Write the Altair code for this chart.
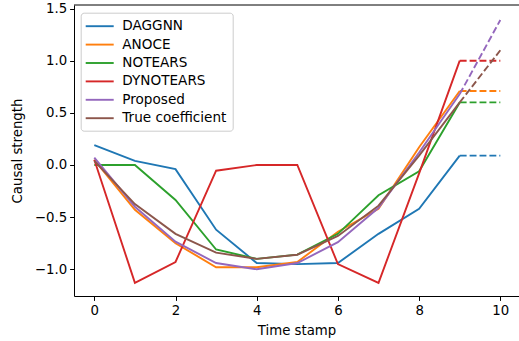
import altair as alt
import pandas as pd

t = [0, 1, 2, 3, 4, 5, 6, 7, 8, 9]
methods = ["DAGGNN", "ANOCE", "NOTEARS", "DYNOTEARS", "Proposed", "True coefficient"]
colors = ["#1f77b4", "#ff7f0e", "#2ca02c", "#d62728", "#9467bd", "#8c564b"]

daggnn = [0.19, 0.04, -0.04, -0.62, -0.94, -0.95, -0.94, -0.66, -0.42, 0.09]
anoce = [0.05, -0.43, -0.75, -0.98, -0.98, -0.93, -0.64, -0.42, 0.17, 0.71]
notears = [0.0, 0.0, -0.335, -0.81, -0.90, -0.86, -0.66, -0.29, -0.06, 0.60]
dynotears = [0.05, -1.13, -0.93, -0.055, 0.0, 0.0, -0.95, -1.13, -0.08, 1.00]
proposed = [0.07, -0.40, -0.735, -0.94, -1.0, -0.94, -0.74, -0.41, 0.12, 0.68]
true_coef = [0.04, -0.375, -0.66, -0.84, -0.90, -0.86, -0.68, -0.39, 0.09, 0.60]

t_ext = [9, 10]
ext_end = [0.09, 0.71, 0.60, 1.00, 1.39, 1.10]

series = [daggnn, anoce, notears, dynotears, proposed, true_coef]

solid_rows = []
dash_rows = []
for k, (m, s, e) in enumerate(zip(methods, series, ext_end)):
    for ti, v in zip(t, s):
        solid_rows.append({"t": ti, "v": v, "method": m, "k": k})
    dash_rows.append({"t": t_ext[0], "v": s[-1], "method": m, "k": k})
    dash_rows.append({"t": t_ext[1], "v": e, "method": m, "k": k})

solid = pd.DataFrame(solid_rows)
dashed = pd.DataFrame(dash_rows)

FONT = "DejaVu Sans"
FS = 13.3
LFS = 13.6

xenc = alt.X(
    "t:Q",
    scale=alt.Scale(domain=[-0.5, 10.46], nice=False, zero=False),
    axis=alt.Axis(values=[0, 2, 4, 6, 8, 10], format="d", title="Time stamp", titlePadding=7),
)
yenc = alt.Y(
    "v:Q",
    scale=alt.Scale(domain=[-1.256, 1.534], nice=False, zero=False),
    axis=alt.Axis(values=[-1.0, -0.5, 0.0, 0.5, 1.0, 1.5], format=".1f", title="Causal strength", titlePadding=9.5),
)
cenc = alt.Color(
    "method:N",
    scale=alt.Scale(domain=methods, range=colors),
    sort=methods,
    legend=alt.Legend(title=None),
)

lines = alt.Chart(solid).mark_line(strokeWidth=1.9, clip=True).encode(
    x=xenc, y=yenc, color=cenc, detail="k:O", order="t:Q"
)
dash = alt.Chart(dashed).mark_line(strokeWidth=1.9, strokeDash=[6.9, 3], clip=True).encode(
    x=xenc, y=yenc, color=cenc, detail="k:O", order="t:Q"
)
top = alt.Chart(pd.DataFrame({"a": [0]})).mark_rule(color="black", strokeWidth=1).encode(
    y=alt.value(0), x=alt.value(0), x2=alt.value(445)
)

chart = (
    alt.layer(lines, dash, top)
    .properties(
        width=445,
        height=291,
        padding={"left": 74, "top": 5, "right": 0, "bottom": 45},
        autosize=alt.AutoSizeParams(type="none"),
        background="white",
    )
    .configure_view(stroke=None)
    .configure_axis(
        grid=False,
        domainColor="black",
        domainWidth=1,
        tickColor="black",
        tickSize=4.4,
        tickWidth=1,
        labelColor="black",
        labelFont=FONT,
        labelFontSize=FS,
        labelPadding=3,
        titleFont=FONT,
        titleFontSize=FS,
        titleFontWeight="normal",
        titleColor="black",
    )
    .configure_legend(
        orient="none",
        legendX=6.7,
        legendY=7.7,
        padding=5.5,
        symbolType="M-1,0L3,0",
        symbolSize=196,
        symbolStrokeWidth=1.9,
        symbolOffset=-1.5,
        labelOffset=21.6,
        rowPadding=3.4,
        fillColor="rgba(255,255,255,0.8)",
        strokeColor="#cccccc",
        cornerRadius=3,
        labelFont=FONT,
        labelFontSize=LFS,
        labelColor="black",
    )
)

chart.save("out.html", embed_options={"renderer": "svg", "actions": False})
